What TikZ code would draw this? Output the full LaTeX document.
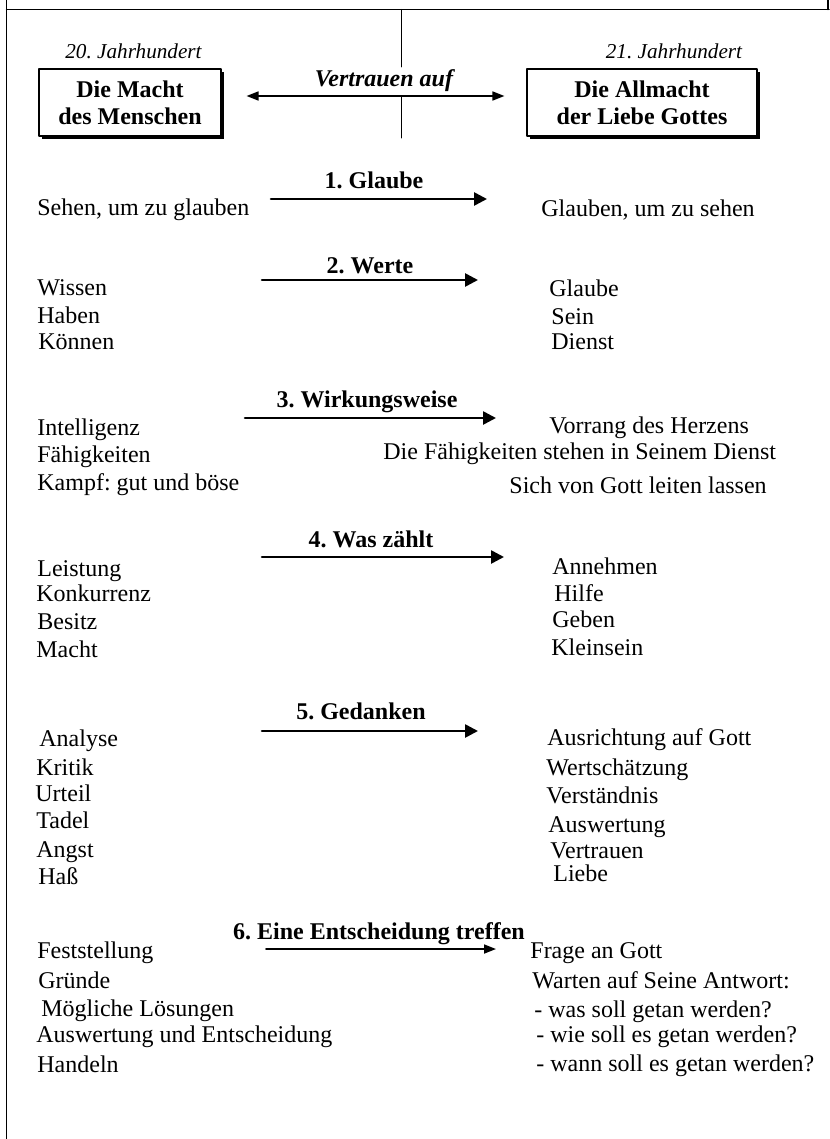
\documentclass[tikz,border=0pt]{standalone}
\usepackage{fontspec}
\setmainfont{Liberation Serif}
\frenchspacing
\usetikzlibrary{arrows.meta,shadows}

\begin{document}
\begin{tikzpicture}[line cap=round,line join=round,x=0.5pt,y=-0.5pt,
	>={Triangle[length=6.5pt,width=6.5pt]},
	every node/.style={inner sep=0pt,font=\fontsize{12}{13.5}\selectfont},
	item/.style={anchor=base west},
	head/.style={anchor=base,font=\fontsize{12}{13.5}\selectfont\bfseries},
	era/.style={anchor=base,font=\fontsize{10.6}{12}\selectfont\itshape},
	powerbox/.style={draw,line width=0.6pt,fill=white,align=center,minimum height=33.5pt,
		font=\fontsize{12}{13.5}\selectfont\bfseries,
		drop shadow={shadow xshift=1.5pt,shadow yshift=-1.5pt,fill=black,opacity=1}},
	secarrow/.style={->,line width=1.3pt}]
	\useasboundingbox (0,0) rectangle (829,1139);
	% frame
	\draw[line width=0.75pt] (6.5,0) -- (6.5,1139);
	\draw[line width=0.75pt] (6.5,9.5) -- (829,9.5);
	\draw[line width=0.75pt] (828,0) -- (828,9.5);
	\draw[line width=0.5pt] (401,9.5) -- (401,67);
	\draw[line width=0.5pt] (401,96) -- (401,138);

	% the two eras
	\node[era] (era20) at (133.5,59) {20. Jahrhundert};
	\node[era] (era21) at (674,59) {21. Jahrhundert};
	\node[powerbox,minimum width=91pt] (mensch) at (130,102.5) {Die Macht\\des Menschen};
	\node[powerbox,minimum width=115pt] (gott) at (642,102.5) {Die Allmacht\\der Liebe Gottes};
	\node[anchor=base,font=\fontsize{12}{13.5}\selectfont\bfseries\itshape] (vertrauen) at (384,87) {Vertrauen auf};
	\draw[<->,line width=0.85pt,>={Triangle[length=6pt,width=4.5pt]}] ([xshift=12.5pt,yshift=3.25pt]mensch.east) -- ([xshift=-11pt,yshift=3.25pt]gott.west);

	% headings and arrows
	\foreach \n/\xa/\xb/\ya/\hx/\hy/\t in {1/271/487/199/374/189/{1. Glaube},
		2/262/478/280/370/273/{2. Werte},3/245/496/418/367/407/{3. Wirkungsweise},
		4/262/504/557/371/547/{4. Was zählt},5/262/478/731/361/719/{5. Gedanken}}
	{
		\node[head] (h\n) at (\hx,\hy) {\t};
		\coordinate (s\n) at (\xa,\ya);
		\coordinate (e\n) at (\xb,\ya);
		\draw[secarrow] (s\n) -- (e\n);
	}
	\node[head] (h6) at (379,939) {6. Eine Entscheidung treffen};
	\coordinate (s6) at (266,949);
	\coordinate (e6) at (496,949);
	\draw[->,line width=0.85pt,>={Triangle[length=6pt,width=4.5pt]}] (s6) -- (e6);

	% left column
	\foreach \x/\y/\t [count=\i] in {37/215/{Sehen, um zu glauben},
		37/295/Wissen,37/323/Haben,38/349/Können,
		37/435/Intelligenz,37/462/Fähigkeiten,37/490/{Kampf: gut und böse},
		37/576/Leistung,36/601/Konkurrenz,37/629/Besitz,36/657/Macht,
		39/746/Analyse,36/775/Kritik,35/801/Urteil,36/828/Tadel,36/857/Angst,38/884/Haß,
		37/958/Feststellung,38/988/Gründe,41/1016/{Mögliche Lösungen},
		36/1042/{Auswertung und Entscheidung},37/1072/Handeln}
	\node[item] (l\i) at (\x,\y) {\t};

	% right column
	\foreach \x/\y/\t [count=\i] in {541/217/{Glauben, um zu sehen},
		549/296/Glaube,551/324/Sein,551/349/Dienst,
		549/433/{Vorrang des Herzens},383/459/{Die Fähigkeiten stehen in Seinem Dienst},
		509/493/{Sich von Gott leiten lassen},
		552/574/Annehmen,554/601/Hilfe,552/627/Geben,551/655/Kleinsein,
		547/745/{Ausrichtung auf Gott},546/775/Wertschätzung,546/803/Verständnis,
		548/832/Auswertung,550/858/Vertrauen,553/881/Liebe,
		530/958/{Frage an Gott},532/988/{Warten auf Seine Antwort:},
		534/1017/{- was soll getan werden?},536/1042/{- wie soll es getan werden?},
		536/1071/{- wann soll es getan werden?}}
	\node[item] (r\i) at (\x,\y) {\t};
\end{tikzpicture}
\end{document}
